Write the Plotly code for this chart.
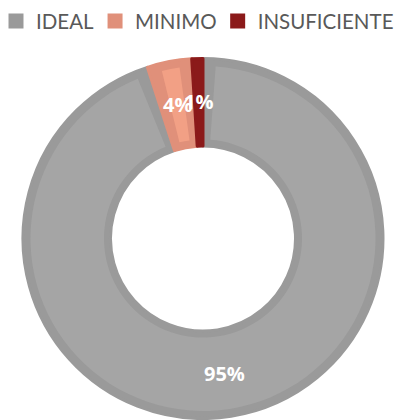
import math
import plotly.graph_objects as go

categories = ["IDEAL", "MINIMO", "INSUFICIENTE"]
values = [95, 4, 1]
fill_colors = ["#A5A5A5", "#F2A085", "#8B1A1A"]
line_colors = ["#9A9A9A", "#E0907A", "#8B1A1A"]

W_FIG, H_FIG = 395, 420
CX, CY = 203, 181.5          # pie centre (px, y measured from bottom)
R_OUT, R_IN = 180, 92.5      # outer ring (border colour), stroke adds 1.5px
BORDER_OUT, BORDER_IN = 7.5, 6.5
GAP_PCT = 1.17               # angular inset of the lighter inner fill (% of circle)


def domain(r):
    return dict(x=[(CX - r) / W_FIG, (CX + r) / W_FIG],
                y=[max(0, (CY - r) / H_FIG), (CY + r) / H_FIG])


fig = go.Figure()

# outer ring: slices in their border colour
fig.add_trace(go.Pie(
    labels=categories,
    values=values,
    hole=R_IN / R_OUT,
    sort=False,
    direction="clockwise",
    rotation=0,
    marker=dict(colors=line_colors, line=dict(color=line_colors, width=3)),
    textinfo="none",
    hoverinfo="label+percent",
    domain=domain(R_OUT),
    showlegend=True,
))

# inner lighter fill of each slice, inset from the slice edges
inner_labels, inner_vals, inner_cols = [], [], []
for i, (c, v, col) in enumerate(zip(categories, values, fill_colors)):
    core = v - 2 * GAP_PCT
    if core > 0:
        inner_labels += [f"_g{i}a", f"_{c}", f"_g{i}b"]
        inner_vals += [GAP_PCT, core, GAP_PCT]
        inner_cols += ["rgba(0,0,0,0)", col, "rgba(0,0,0,0)"]
    else:
        inner_labels += [f"_g{i}"]
        inner_vals += [v]
        inner_cols += ["rgba(0,0,0,0)"]

r2_out = R_OUT - BORDER_OUT
r2_in = R_IN + BORDER_IN
fig.add_trace(go.Pie(
    labels=inner_labels,
    values=inner_vals,
    hole=r2_in / r2_out,
    sort=False,
    direction="clockwise",
    rotation=0,
    marker=dict(colors=inner_cols, line=dict(width=0)),
    textinfo="none",
    hoverinfo="skip",
    domain=domain(r2_out),
    showlegend=False,
))

# percentage labels at mid-ring, horizontally centred, derived from the data
r_mid = (R_OUT + R_IN) / 2 + 0.5
total = sum(values)
cum = 0
for v in values:
    frac_mid = (cum + v / 2) / total
    cum += v
    ang = 2 * math.pi * frac_mid
    px = CX + r_mid * math.sin(ang)
    py = CY + r_mid * math.cos(ang)
    fig.add_annotation(
        x=px / W_FIG, y=py / H_FIG, xref="paper", yref="paper",
        text=f"{round(100 * v / total)}%", showarrow=False,
        xanchor="center", yanchor="middle",
        font=dict(family="Open Sans", size=20, color="white", weight="bold"),
    )

fig.update_layout(
    width=W_FIG, height=H_FIG,
    margin=dict(l=0, r=0, t=0, b=0),
    paper_bgcolor="white",
    plot_bgcolor="white",
    showlegend=True,
    legend=dict(
        orientation="h",
        x=0.0, xanchor="left",
        y=0.997, yanchor="top",
        bgcolor="rgba(0,0,0,0)",
        font=dict(family="Lato", size=20.5, color="#595959"),
        traceorder="normal",
        itemwidth=30,
        indentation=-4,
    ),
)

fig.write_html("out.html")
